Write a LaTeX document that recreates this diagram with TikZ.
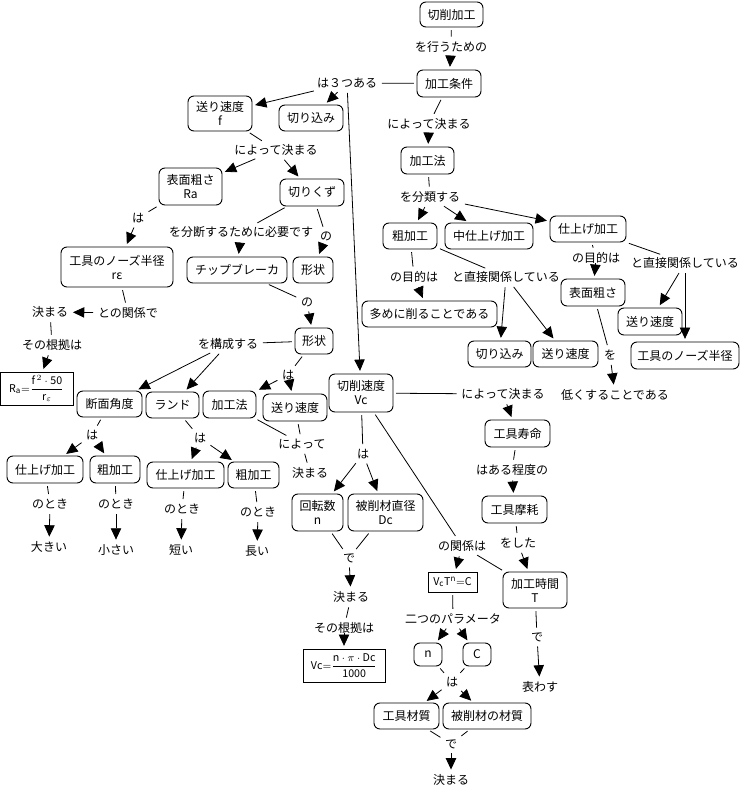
\documentclass[tikz,border=0pt]{standalone}
\usepackage{amsmath}
\usepackage{fontspec}
\setmainfont{Noto Sans CJK JP}
\usetikzlibrary{arrows.meta}
\begin{document}
\begin{tikzpicture}[x=0.75pt,y=-0.75pt,font=\fontsize{9}{10.5}\selectfont,
  concept/.style={draw, rounded corners=4.5pt, line width=0.7pt, inner sep=0pt, align=center},
  fbox/.style={draw, line width=0.7pt, inner sep=0pt},
  sz/.style 2 args={minimum width=#1*0.75pt, minimum height=#2*0.75pt},
  lab/.style={inner sep=1.5pt},
  term/.style={inner sep=1.5pt},
  ln/.style={line width=0.6pt, shorten <=2pt, shorten >=2pt},
  arr/.style={ln, -{Triangle[length=8.5pt,width=7.8pt]}}]
\useasboundingbox (0,0) rectangle (744,795);
% concepts
\node[concept, sz={63}{25}] (c1) at (451.5,14.5) {切削加工};
\node[concept, sz={64}{27}] (c2) at (449,83.5) {加工条件};
\node[concept, sz={64}{35}] (c3) at (220,113.5) {送り速度\\f};
\node[concept, sz={64}{26}] (c4) at (311,118) {切り込み};
\node[concept, sz={53}{27}] (c5) at (427.5,160.5) {加工法};
\node[concept, sz={63}{37}] (c6) at (190.5,186.5) {表面粗さ\\Ra};
\node[concept, sz={64}{27}] (c7) at (312,192.5) {切りくず};
\node[concept, sz={112}{40}] (c8) at (117,267) {工具のノーズ半径\\rε};
\node[concept, sz={100}{26}] (c9) at (237,270) {チップブレーカ};
\node[concept, sz={40}{26}] (c10) at (313,270) {形状};
\node[concept, sz={38}{26}] (c11) at (314,341) {形状};
\node[concept, sz={54}{26}] (c12) at (410,236) {粗加工};
\node[concept, sz={88}{26}] (c13) at (489,236) {中仕上げ加工};
\node[concept, sz={76}{26}] (c14) at (588,229) {仕上げ加工};
\node[concept, sz={135}{26}] (c15) at (429.5,314) {多めに削ることである};
\node[concept, sz={64}{27}] (c16) at (593,292.5) {表面粗さ};
\node[concept, sz={64}{27}] (c17) at (650,321.5) {送り速度};
\node[concept, sz={63}{26}] (c18) at (499.5,354) {切り込み};
\node[concept, sz={65}{26}] (c19) at (565.5,354) {送り速度};
\node[concept, sz={108}{27}] (c20) at (685,355.5) {工具のノーズ半径};
\node[fbox, sz={73}{33}, font=\fontsize{8}{9}\selectfont] (c21) at (36.5,388.5) {$\mathrm{R_a}{=}\dfrac{\mathrm{f}^{\,2}\cdot\mathrm{50}}{\mathrm{r}_{\varepsilon}}$};
\node[concept, sz={65}{26}] (c22) at (109.5,404) {断面角度};
\node[concept, sz={53}{26}] (c23) at (172.5,405) {ランド};
\node[concept, sz={53}{27}] (c24) at (229.5,404.5) {加工法};
\node[concept, sz={64}{27}] (c25) at (295,407.5) {送り速度};
\node[concept, sz={64}{38}] (c26) at (361,393) {切削速度\\Vc};
\node[concept, sz={76}{27}] (c27) at (45,469.5) {仕上げ加工};
\node[concept, sz={50}{27}] (c28) at (115,469.5) {粗加工};
\node[concept, sz={77}{26}] (c29) at (185.5,475) {仕上げ加工};
\node[concept, sz={51}{26}] (c30) at (253.5,475) {粗加工};
\node[concept, sz={51}{37}] (c31) at (317.5,512.5) {回転数\\n};
\node[concept, sz={75}{37}] (c32) at (385.5,512.5) {被削材直径\\Dc};
\node[concept, sz={65}{27}] (c33) at (517.5,433.5) {工具寿命};
\node[concept, sz={65}{27}] (c34) at (514.5,509.5) {工具摩耗};
\node[fbox, sz={49}{20}, font=\fontsize{8}{9}\selectfont] (c35) at (452.5,582) {$\mathrm{V_cT^n{=}C}$};
\node[concept, sz={64}{36}] (c36) at (535,590) {加工時間\\T};
\node[concept, sz={28}{23}] (c37) at (428,654.5) {n};
\node[concept, sz={28}{23}] (c38) at (477,654.5) {C};
\node[fbox, sz={82}{33}, font=\fontsize{8}{9}\selectfont] (c39) at (344,665.5) {$\mathrm{Vc}{=}\dfrac{\mathrm{n}\cdot\pi\cdot\mathrm{Dc}}{\mathrm{1000}}$};
\node[concept, sz={65}{26}] (c40) at (406.5,716) {工具材質};
\node[concept, sz={88}{26}] (c41) at (487,716) {被削材の材質};
% terminal texts
\node[term] (t1) at (50,312) {決まる};
\node[term] (t2) at (310,473) {決まる};
\node[term] (t3) at (49,547) {大きい};
\node[term] (t4) at (116,550) {小さい};
\node[term] (t5) at (181,550) {短い};
\node[term] (t6) at (257,551) {長い};
\node[term] (t7) at (615,395) {低くすることである};
\node[term] (t8) at (540,687) {表わす};
\node[term] (t9) at (451,780) {決まる};
\node[term] (t10) at (351,597) {決まる};
% linking phrases
\node[lab] (l1) at (451,47) {を行うための};
\node[lab] (l2) at (347,83) {は３つある};
\node[lab] (l3) at (429,124) {によって決まる};
\node[lab] (l4) at (276,150) {によって決まる};
\node[lab] (l5) at (138,218) {は};
\node[lab] (l6) at (241,232) {を分断するために必要です};
\node[lab] (l7) at (326,236) {の};
\node[lab] (l8) at (128,313) {との関係で};
\node[lab] (l9) at (52,345) {その根拠は};
\node[lab] (l10) at (307,302) {の};
\node[lab] (l11) at (228,344) {を構成する};
\node[lab] (l12) at (288,375) {は};
\node[lab] (l13) at (302,444) {によって};
\node[lab] (l14) at (92,435) {は};
\node[lab] (l15) at (200,438) {は};
\node[lab] (l16) at (50,504) {のとき};
\node[lab] (l17) at (116,504) {のとき};
\node[lab] (l18) at (182,509) {のとき};
\node[lab] (l19) at (258,512) {のとき};
\node[lab] (l20) at (430,197) {を分類する};
\node[lab] (l21) at (414,277) {の目的は};
\node[lab] (l22) at (506,277) {と直接関係している};
\node[lab] (l23) at (596,258) {の目的は};
\node[lab] (l24) at (685,263) {と直接関係している};
\node[lab] (l25) at (610,355) {を};
\node[lab] (l26) at (503,394) {によって決まる};
\node[lab] (l27) at (512,470) {はある程度の};
\node[lab] (l28) at (518,543) {をした};
\node[lab] (l29) at (462,546) {の関係は};
\node[lab] (l30) at (453,619) {二つのパラメータ};
\node[lab] (l31) at (537,637) {で};
\node[lab] (l32) at (452,682) {は};
\node[lab] (l33) at (451,744) {で};
\node[lab] (l34) at (363,454) {は};
\node[lab] (l35) at (349,558) {で};
\node[lab] (l36) at (344,628) {その根拠は};
% connectors
\draw[ln] (c1) -- (l1); \draw[arr] (l1) -- (c2);
\draw[ln] (c2) -- (l2); \draw[arr] (l2) -- (c3); \draw[arr] (l2) -- (c4); \draw[arr] (l2) -- (c26);
\draw[ln] (c2) -- (l3); \draw[arr] (l3) -- (c5);
\draw[ln] (c3) -- (l4); \draw[arr] (l4) -- (c6); \draw[arr] (l4) -- (c7);
\draw[ln] (c6) -- (l5); \draw[arr] (l5) -- (c8);
\draw[ln] (c7) -- (l6); \draw[arr] (l6) -- (c9);
\draw[ln] (c7) -- (l7); \draw[arr] (l7) -- (c10);
\draw[ln] (c8) -- (l8); \draw[arr] (l8) -- (t1);
\draw[ln] (t1) -- (l9); \draw[arr] (l9) -- (c21);
\draw[ln] (c9) -- (l10); \draw[arr] (l10) -- (c11);
\draw[ln] (c11) -- (l11); \draw[arr] (l11) -- (c22); \draw[arr] (l11) -- (c23);
\draw[ln] (c11) -- (l12); \draw[arr] (l12) -- (c24); \draw[arr] (l12) -- (c25);
\draw[ln] (c24) -- (l13); \draw[ln] (c25) -- (l13); \draw[ln] (l13) -- (t2);
\draw[ln] (c22) -- (l14); \draw[arr] (l14) -- (c27); \draw[arr] (l14) -- (c28);
\draw[ln] (c23) -- (l15); \draw[arr] (l15) -- (c29); \draw[arr] (l15) -- (c30);
\draw[ln] (c27) -- (l16); \draw[arr] (l16) -- (t3);
\draw[ln] (c28) -- (l17); \draw[arr] (l17) -- (t4);
\draw[ln] (c29) -- (l18); \draw[arr] (l18) -- (t5);
\draw[ln] (c30) -- (l19); \draw[arr] (l19) -- (t6);
\draw[ln] (c5) -- (l20); \draw[arr] (l20) -- (c12); \draw[arr] (l20) -- (c13); \draw[arr] (l20) -- (c14);
\draw[ln] (c12) -- (l21); \draw[arr] (l21) -- (c15);
\draw[ln] (c12) -- (l22); \draw[arr] (l22) -- (c18); \draw[arr] (l22) -- (c19);
\draw[ln] (c14) -- (l23); \draw[arr] (l23) -- (c16);
\draw[ln] (c14) -- (l24); \draw[arr] (l24) -- (c17); \draw[arr] (l24) -- (c20);
\draw[ln] (c16) -- (l25); \draw[arr] (l25) -- (t7);
\draw[ln] (c26) -- (l26); \draw[arr] (l26) -- (c33);
\draw[ln] (c33) -- (l27); \draw[arr] (l27) -- (c34);
\draw[ln] (c34) -- (l28); \draw[arr] (l28) -- (c36);
\draw[ln] (c26) -- (l29); \draw[ln] (c36) -- (l29); \draw[arr] (l29) -- (c35);
\draw[ln] (c35) -- (l30); \draw[arr] (l30) -- (c37); \draw[arr] (l30) -- (c38);
\draw[ln] (c36) -- (l31); \draw[arr] (l31) -- (t8);
\draw[ln] (c37) -- (l32); \draw[ln] (c38) -- (l32); \draw[arr] (l32) -- (c40); \draw[arr] (l32) -- (c41);
\draw[ln] (c40) -- (l33); \draw[ln] (c41) -- (l33); \draw[arr] (l33) -- (t9);
\draw[ln] (c26) -- (l34); \draw[arr] (l34) -- (c31); \draw[arr] (l34) -- (c32);
\draw[ln] (c31) -- (l35); \draw[ln] (c32) -- (l35); \draw[arr] (l35) -- (t10);
\draw[ln] (t10) -- (l36); \draw[arr] (l36) -- (c39);
\end{tikzpicture}
\end{document}
